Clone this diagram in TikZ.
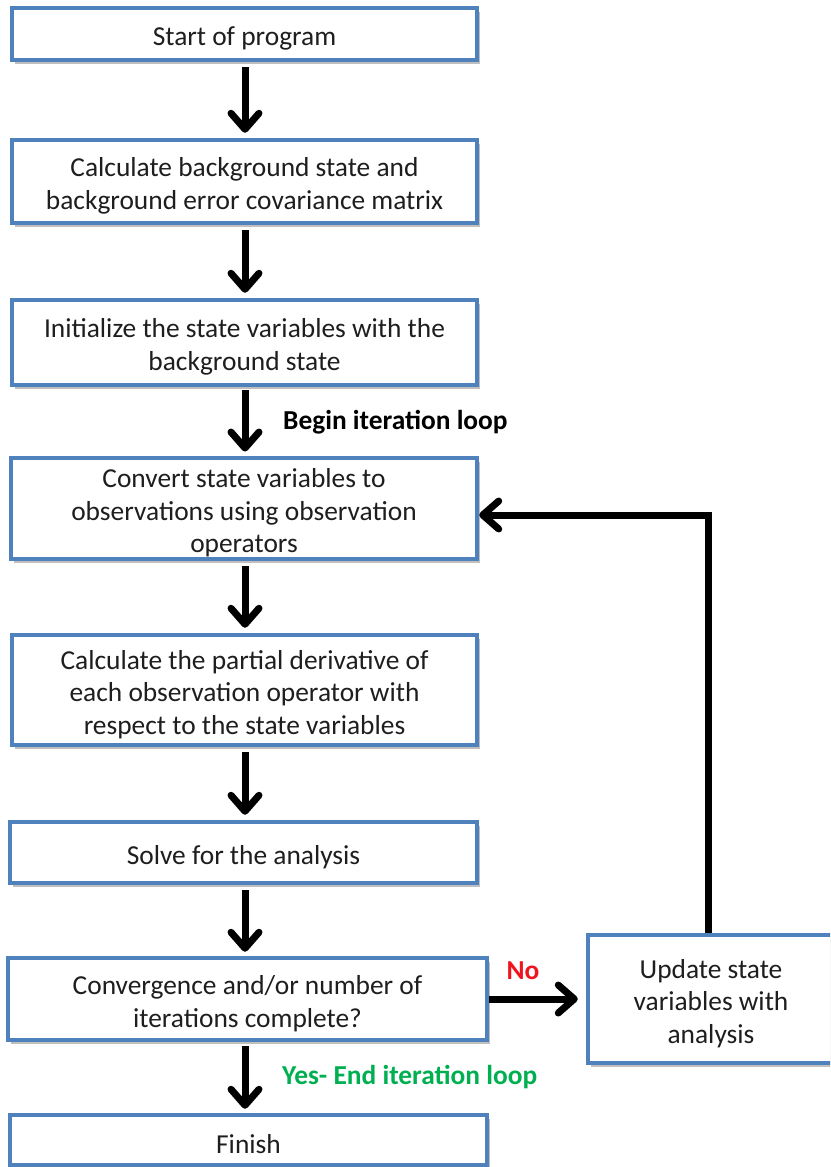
\documentclass[tikz,border=0pt]{standalone}
\usepackage{fontspec}
\setmainfont{Carlito}
\usetikzlibrary{arrows.meta,shadows,calc}
\definecolor{boxblue}{RGB}{79,129,189}
\definecolor{txt}{RGB}{30,30,30}
\definecolor{yesgreen}{RGB}{0,176,80}
\definecolor{nored}{RGB}{240,20,30}
\newcommand\tgap{\rule{0pt}{28pt}}
\begin{document}
\begin{tikzpicture}[x=1pt,y=-1pt,
  flowbox/.style={draw=boxblue, line width=4.5pt, fill=white, align=center,
    inner sep=2pt, text=txt, font=\fontsize{27.4}{32.5}\selectfont,
    drop shadow={shadow xshift=3pt, shadow yshift=-4pt, fill=black, opacity=0.25}},
  flowarrow/.style={line width=7pt, -{Straight Barb[length=16pt, width=28pt, line width=7pt, round]}},
  lbl/.style={font=\fontsize{27.4}{30}\selectfont\bfseries, inner sep=0pt}
]
\useasboundingbox (0,0) rectangle (830,1167);
\begin{scope}
\clip (0,0) rectangle (830,1167);
\node[flowbox, minimum width=465pt, minimum height=52pt] (b1) at (244.5,34) {\tgap Start of program};
\node[flowbox, minimum width=465pt, minimum height=83pt] (b2) at (244.5,181.5) {\tgap Calculate background state and\\background error covariance matrix};
\node[flowbox, minimum width=465pt, minimum height=85pt] (b3) at (244.5,342.5) {\tgap Initialize the state variables with the\\background state};
\node[flowbox, minimum width=466pt, minimum height=101pt] (b4) at (244,508.5) {\tgap Convert state variables to\\observations using observation\\operators};
\node[flowbox, minimum width=465pt, minimum height=110pt] (b5) at (244.5,690) {\tgap Calculate the partial derivative of\\each observation operator with\\respect to the state variables};
\node[flowbox, minimum width=467pt, minimum height=61pt] (b6) at (243.5,852.5) {\tgap Solve for the analysis};
\node[flowbox, minimum width=479pt, minimum height=82pt] (b7) at (247.5,999) {\tgap Convergence and/or number of\\iterations complete?};
\node[flowbox, minimum width=246pt, minimum height=128pt] (b8) at (711,999) {\tgap Update state\\variables with\\analysis};
\node[flowbox, minimum width=477pt, minimum height=50pt] (b9) at (248.5,1140) {\tgap Finish};
\end{scope}

\draw[flowarrow, shorten <=5pt, shorten >=5pt] (b1.south -| 245,0) -- (b2.north -| 245,0);
\draw[flowarrow, shorten <=5pt, shorten >=5pt] (b2.south -| 245,0) -- (b3.north -| 245,0);
\draw[flowarrow, shorten <=3pt, shorten >=4pt] (b3.south -| 245,0) -- (b4.north -| 245,0);
\draw[flowarrow, shorten <=5pt, shorten >=5pt] (b4.south -| 245,0) -- (b5.north -| 245,0);
\draw[flowarrow, shorten <=5pt, shorten >=5pt] (b5.south -| 245,0) -- (b6.north -| 245,0);
\draw[flowarrow, shorten <=5pt, shorten >=4pt] (b6.south -| 245,0) -- (b7.north -| 245,0);
\draw[flowarrow, shorten <=4pt, shorten >=4pt] (b7.south -| 245,0) -- (b9.north -| 245,0);
\draw[flowarrow, shorten >=8pt] (b7.east) -- (b8.west);
\draw[flowarrow, line join=miter] (b8.north -| 708,0) |- ([yshift=-6.5pt]b4.east);

\node[lbl, anchor=west, text=black] (lbegin) at (283,422) {Begin iteration loop};
\node[lbl, text=nored] (lno) at (523,971) {No};
\node[lbl, anchor=west, text=yesgreen] (lyes) at (282,1077) {Yes- End iteration loop};
\end{tikzpicture}
\end{document}
